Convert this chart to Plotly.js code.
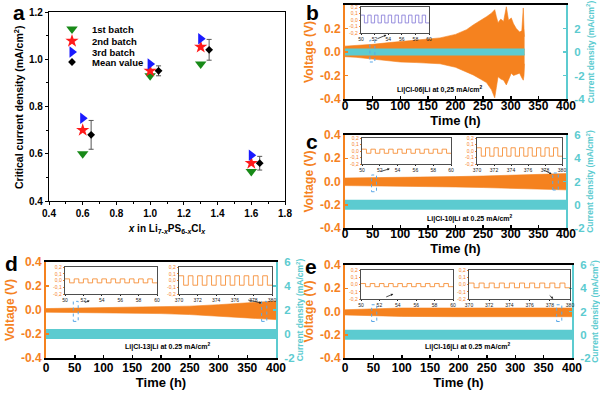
<!DOCTYPE html>
<html><head><meta charset="utf-8">
<script src="https://cdn.plot.ly/plotly-3.0.1.min.js"></script>
<style>html,body{margin:0;padding:0;background:#fff}#chart{width:600px;height:395px}</style>
</head><body><div id="chart"></div>
<script>
// ---------- Panel a data ----------
const xBatch = [0.6, 1.0, 1.3, 1.6];
const batch1 = [0.60, 0.93, 0.98, 0.525];
const batch2 = [0.70, 0.951, 1.052, 0.56];
const batch3 = [0.75, 0.98, 1.087, 0.594];
const xMean = [0.65, 1.05, 1.35, 1.65];
const meanVal = [0.68, 0.951, 1.04, 0.56];
const meanErr = [0.061, 0.021, 0.044, 0.029];
const aXTicks = [0.4, 0.6, 0.8, 1.0, 1.2, 1.4, 1.6, 1.8];
const aYTicks = [0.4, 0.6, 0.8, 1.0, 1.2];

// ---------- Panels b-e shared ticks ----------
const timeTicks = [0, 50, 100, 150, 200, 250, 300, 350, 400];
const voltTicks = [-0.4, -0.2, 0, 0.2, 0.4];
const voltTickText = ['-0.4', '-0.2', '0.0', '0.2', '0.4'];
const curTicksB = [-4, -2, 0, 2, 4];
const curTickTextB = ['-4', '-2', '0', '2', '4'];
const curTicksCDE = [-2, 0, 2, 4, 6];
const curTickTextCDE = ['-2', '0', '2', '4', '6'];

// ---------- Panel b: Li|Cl-06|Li voltage envelope ----------
const bT  = [0, 20, 50, 80, 100, 130, 150, 172, 200, 220, 232, 245, 256, 265, 271, 274, 277, 282, 287, 292, 296, 301, 305, 310, 316, 320, 322.7, 324, 325];
const bUp = [0.05, 0.055, 0.065, 0.08, 0.09, 0.105, 0.11, 0.12, 0.15, 0.19, 0.23, 0.265, 0.30, 0.33, 0.36, 0.30, 0.25, 0.28, 0.26, 0.385, 0.27, 0.29, 0.24, 0.20, 0.17, 0.18, 0.375, 0.20, 0.13];
const bLo = [-0.04, -0.045, -0.06, -0.075, -0.085, -0.09, -0.095, -0.10, -0.13, -0.17, -0.195, -0.23, -0.26, -0.32, -0.39, -0.30, -0.21, -0.23, -0.24, -0.28, -0.24, -0.18, -0.20, -0.19, -0.18, -0.22, -0.24, -0.20, -0.10];
const bCurT = [0, 325];

// ---------- Panel c: Li|Cl-10|Li ----------
const cT  = [0, 50, 100, 150, 200, 250, 300, 350, 400];
const cUp = [0.03, 0.032, 0.035, 0.038, 0.042, 0.047, 0.053, 0.06, 0.068];
const cLo = [-0.035, -0.037, -0.04, -0.043, -0.047, -0.052, -0.058, -0.064, -0.072];

// ---------- Panel d: Li|Cl-13|Li ----------
const dT  = [0, 50, 100, 150, 200, 250, 300, 350, 400];
const dUp = [0.012, 0.015, 0.018, 0.021, 0.025, 0.032, 0.044, 0.058, 0.075];
const dLo = [-0.018, -0.02, -0.022, -0.025, -0.03, -0.038, -0.05, -0.064, -0.08];

// ---------- Panel e: Li|Cl-16|Li ----------
const eT  = [0, 50, 70, 100, 200, 300, 400];
const eUp = [0.015, 0.02, 0.028, 0.03, 0.03, 0.032, 0.03];
const eLo = [-0.03, -0.035, -0.04, -0.042, -0.045, -0.045, -0.045];

// current density (mA/cm2) band
const curFullT = [0, 400];
const curHi = [0.25, 0.25];
const curLo = [-0.25, -0.25];

// ---------- Inset square waves ----------
const tIn50  = [50, 50.5, 51, 51.5, 52, 52.5, 53, 53.5, 54, 54.5, 55, 55.5, 56, 56.5, 57, 57.5, 58, 58.5, 59, 59.5, 60];
const tIn370 = [370, 370.5, 371, 371.5, 372, 372.5, 373, 373.5, 374, 374.5, 375, 375.5, 376, 376.5, 377, 377.5, 378, 378.5, 379, 379.5, 380];
const bInV  = [0.075, -0.045, 0.075, -0.045, 0.075, -0.045, 0.075, -0.045, 0.075, -0.045, 0.075, -0.045, 0.075, -0.045, 0.075, -0.045, 0.075, -0.045, 0.075, -0.045, -0.045];
const cInLV = [0.028, -0.035, 0.028, -0.035, 0.028, -0.035, 0.028, -0.035, 0.028, -0.035, 0.028, -0.035, 0.028, -0.035, 0.028, -0.035, 0.028, -0.035, 0.028, -0.035, -0.035];
const cInRV = [0.05, -0.08, 0.05, -0.08, 0.05, -0.08, 0.05, -0.08, 0.05, -0.08, 0.05, -0.08, 0.05, -0.08, 0.05, -0.08, 0.05, -0.08, 0.05, -0.08, -0.08];
const dInLV = [0.024, -0.035, 0.024, -0.035, 0.024, -0.035, 0.024, -0.035, 0.024, -0.035, 0.024, -0.035, 0.024, -0.035, 0.024, -0.035, 0.024, -0.035, 0.024, -0.035, -0.035];
const dInRV = [0.07, -0.07, 0.07, -0.07, 0.07, -0.07, 0.07, -0.07, 0.07, -0.07, 0.07, -0.07, 0.07, -0.07, 0.07, -0.07, 0.07, -0.07, 0.07, -0.07, -0.07];
const eInLV = [0.013, -0.03, 0.013, -0.03, 0.013, -0.03, 0.013, -0.03, 0.013, -0.03, 0.013, -0.03, 0.013, -0.03, 0.013, -0.03, 0.013, -0.03, 0.013, -0.03, -0.03];
const eInRV = [0.02, -0.045, 0.02, -0.045, 0.02, -0.045, 0.02, -0.045, 0.02, -0.045, 0.02, -0.045, 0.02, -0.045, 0.02, -0.045, 0.02, -0.045, 0.02, -0.045, -0.045];
const inX50Ticks = [50, 52, 54, 56, 58, 60];
const inX370Ticks = [370, 372, 374, 376, 378, 380];
const inYTicks = [-0.2, -0.1, 0, 0.1, 0.2];
const inYTickText = ['-0,2', '-0,1', '0,0', '0,1', '0,2'];

// ---------- styling ----------
const FONT = 'Arial, "Liberation Sans", sans-serif';
const OR = '#f5821f';
const CY = '#5ccbd0';
const BOX = '#5aa7e6';

const traces = [];
// panel a
traces.push({x: xBatch, y: batch1, xaxis: 'x', yaxis: 'y', mode: 'markers', name: '1st batch', legend: 'legend',
  marker: {symbol: 'triangle-down', size: 10, color: '#188a18'}});
traces.push({x: xBatch, y: batch2, xaxis: 'x', yaxis: 'y', mode: 'markers', name: '2nd batch', legend: 'legend2',
  marker: {symbol: 'star', size: 10, color: '#ff1a1a'}});
traces.push({x: xBatch, y: batch3, xaxis: 'x', yaxis: 'y', mode: 'markers', name: '3rd batch', legend: 'legend3',
  marker: {symbol: 'triangle-right', size: 10, color: '#1a1aff'}});
traces.push({x: xMean, y: meanVal, xaxis: 'x', yaxis: 'y', mode: 'markers', name: 'Mean value', legend: 'legend4',
  marker: {symbol: 'diamond', size: 6, color: '#000'},
  error_y: {type: 'data', array: meanErr, color: '#555', thickness: 1, width: 2.5}});

function envelope(t, lo, hi, xa, ya) {
  traces.push({x: t, y: lo, xaxis: xa, yaxis: ya, mode: 'lines', line: {color: OR, width: 0.6}, showlegend: false, hoverinfo: 'skip'});
  traces.push({x: t, y: hi, xaxis: xa, yaxis: ya, mode: 'lines', fill: 'tonexty', fillcolor: OR, line: {color: OR, width: 0.6}, showlegend: false, hoverinfo: 'skip'});
}
function current(t, xa, ya, lw) {
  traces.push({x: t, y: curLo, xaxis: xa, yaxis: ya, mode: 'lines', line: {color: CY, width: lw}, showlegend: false, hoverinfo: 'skip'});
  traces.push({x: t, y: curHi, xaxis: xa, yaxis: ya, mode: 'lines', fill: 'tonexty', fillcolor: CY, line: {color: CY, width: lw}, showlegend: false, hoverinfo: 'skip'});
}
envelope(bT, bLo, bUp, 'x2', 'y2');   current(bCurT, 'x2', 'y3', 1.2);
envelope(cT, cLo, cUp, 'x3', 'y4');   current(curFullT, 'x3', 'y5', 4);
envelope(dT, dLo, dUp, 'x4', 'y6');   current(curFullT, 'x4', 'y7', 4);
envelope(eT, eLo, eUp, 'x5', 'y8');   current(curFullT, 'x5', 'y9', 4);

function wave(t, v, xa, ya, col) {
  traces.push({x: t, y: v, xaxis: xa, yaxis: ya, mode: 'lines', line: {color: col, width: 0.8, shape: 'hv'}, showlegend: false, hoverinfo: 'skip'});
}
wave(tIn50, bInV, 'x6', 'y10', '#7f73d6');
wave(tIn50, cInLV, 'x7', 'y11', OR);
wave(tIn370, cInRV, 'x8', 'y12', OR);
wave(tIn50, dInLV, 'x9', 'y13', OR);
wave(tIn370, dInRV, 'x10', 'y14', OR);
wave(tIn50, eInLV, 'x11', 'y15', OR);
wave(tIn370, eInRV, 'x12', 'y16', OR);

const px = v => v / 600;
const py = v => 1 - v / 395;

function mainX(dom, anchor, lblShift) {
  return {domain: [px(dom[0]), px(dom[1])], anchor: anchor, range: [0, 400], tickvals: timeTicks,
    ticks: 'inside', ticklen: 3, tickwidth: 1.5, tickcolor: '#000', showline: true, linecolor: '#000', linewidth: 2, mirror: true,
    ticklabelstandoff: lblShift,
    showgrid: false, zeroline: false, tickfont: {family: FONT, size: 12, color: '#000', weight: 'bold'},
    title: {text: 'Time (h)', font: {family: FONT, size: 13, color: '#000', weight: 'bold'}, standoff: 1}};
}
function mainYL(dom, anchor) {
  return {domain: [py(dom[1]), py(dom[0])], anchor: anchor, range: [-0.4, 0.4], tickvals: voltTicks, ticktext: voltTickText,
    ticks: 'inside', ticklen: 3, tickwidth: 1.5, tickcolor: OR, showline: true, linecolor: OR, linewidth: 2,
    showgrid: false, zeroline: false, tickfont: {family: FONT, size: 12, color: OR, weight: 'bold'},
    title: {text: 'Voltage (V)', font: {family: FONT, size: 12, color: OR, weight: 'bold'}, standoff: 4}};
}
function mainYR(over, anchor, range, tv, tt) {
  return {overlaying: over, anchor: anchor, side: 'right', range: range, tickvals: tv, ticktext: tt,
    ticks: 'inside', ticklen: 3, tickwidth: 1.5, tickcolor: CY, showline: true, linecolor: CY, linewidth: 2,
    ticklabelstandoff: 4,
    showgrid: false, zeroline: false, tickfont: {family: FONT, size: 11.5, color: CY, weight: 'bold'},
    title: {text: 'Current density (mA/cm<sup>2</sup>)', font: {family: FONT, size: 8.5, color: CY, weight: 'bold'}, standoff: 0}};
}
function inX(dom, anchor, range, tv) {
  return {domain: [px(dom[0]), px(dom[1])], anchor: anchor, range: range, tickvals: tv,
    ticks: 'outside', ticklen: 1.5, tickcolor: '#222', showline: true, linecolor: '#222', linewidth: 0.8, mirror: true,
    showgrid: false, zeroline: false, tickfont: {family: FONT, size: 5, color: '#222'}};
}
function inY(ydom, anchor) {
  return {domain: [py(ydom[1]), py(ydom[0])], anchor: anchor, range: [-0.2, 0.2], tickvals: inYTicks, ticktext: inYTickText,
    ticks: 'outside', ticklen: 1.5, tickcolor: OR, showline: true, linecolor: '#222', linewidth: 0.8, mirror: true,
    showgrid: false, zeroline: false, tickfont: {family: FONT, size: 5, color: OR}};
}

const legFont = {family: FONT, size: 9.5, color: '#000', weight: 'bold'};
function leg(ypx) {
  return {x: px(52), y: py(ypx), xanchor: 'left', yanchor: 'middle', bgcolor: 'rgba(0,0,0,0)', borderwidth: 0, font: legFont, itemwidth: 30};
}

const layout = {
  width: 600, height: 395, margin: {l: 0, r: 0, t: 0, b: 0},
  paper_bgcolor: '#fff', plot_bgcolor: 'rgba(0,0,0,0)', showlegend: true,
  font: {family: FONT},
  legend: leg(29), legend2: leg(41), legend3: leg(52), legend4: leg(62),
  xaxis: {domain: [px(49), px(285)], anchor: 'y', range: [0.4, 1.8], tickvals: aXTicks, tickformat: '.1f',
    ticks: 'outside', ticklen: 3, tickcolor: '#000', showline: true, linecolor: '#000', linewidth: 1.2, mirror: true,
    minor: {ticks: 'outside', ticklen: 2, dtick: 0.1, tickcolor: '#000'},
    showgrid: false, zeroline: false, tickfont: {family: FONT, size: 10, color: '#000', weight: 'bold'},
    title: {text: '<i>x</i> in Li<sub>7-<i>x</i></sub>PS<sub>6-<i>x</i></sub>Cl<sub><i>x</i></sub>', font: {family: FONT, size: 10, color: '#000', weight: 'bold'}, standoff: 6}},
  yaxis: {domain: [py(201), py(12)], anchor: 'x', range: [0.4, 1.2], tickvals: aYTicks, tickformat: '.1f',
    ticks: 'outside', ticklen: 3, tickcolor: '#000', showline: true, linecolor: '#000', linewidth: 1.2, mirror: true,
    minor: {ticks: 'outside', ticklen: 2, dtick: 0.1, tickcolor: '#000'},
    showgrid: false, zeroline: false, tickfont: {family: FONT, size: 10, color: '#000', weight: 'bold'}},
  // b
  xaxis2: mainX([345, 566], 'y2', -5), yaxis2: mainYL([5, 99], 'x2'), yaxis3: mainYR('y2', 'x2', [-4, 4], curTicksB, curTickTextB),
  // c
  xaxis3: mainX([345, 566], 'y4', -6), yaxis4: mainYL([135, 228], 'x3'), yaxis5: mainYR('y4', 'x3', [-2, 6], curTicksCDE, curTickTextCDE),
  // d
  xaxis4: mainX([46, 276], 'y6', -2), yaxis6: mainYL([262, 358], 'x4'), yaxis7: mainYR('y6', 'x4', [-2, 6], curTicksCDE, curTickTextCDE),
  // e
  xaxis5: mainX([345, 572], 'y8', -2), yaxis8: mainYL([265, 358], 'x5'), yaxis9: mainYR('y8', 'x5', [-2, 6], curTicksCDE, curTickTextCDE),
  // insets
  xaxis6: inX([361, 429], 'y10', [50, 60], inX50Ticks), yaxis10: inY([7, 33], 'x6'),
  xaxis7: inX([362, 451], 'y11', [50, 60], inX50Ticks), yaxis11: inY([138, 164], 'x7'),
  xaxis8: inX([477, 562], 'y12', [370, 380], inX370Ticks), yaxis12: inY([138, 164], 'x8'),
  xaxis9: inX([65, 157], 'y13', [50, 60], inX50Ticks), yaxis13: inY([267, 294], 'x9'),
  xaxis10: inX([179, 272], 'y14', [370, 380], inX370Ticks), yaxis14: inY([267, 294], 'x10'),
  xaxis11: inX([361, 453], 'y15', [50, 60], inX50Ticks), yaxis15: inY([270, 299], 'x11'),
  xaxis12: inX([469, 570], 'y16', [370, 380], inX370Ticks), yaxis16: inY([270, 299], 'x12'),
  shapes: [],
  annotations: []
};

// panel a y-axis title (placed as annotation for exact position)
layout.annotations.push({xref: 'paper', yref: 'paper', x: px(18), y: py(108), xanchor: 'center', yanchor: 'middle', textangle: -90,
  text: 'Critical current density (mA/cm<sup>2</sup>)', showarrow: false,
  font: {family: FONT, size: 10.5, color: '#000', weight: 'bold'}});

// dashed selection boxes
function dbox(xa, ya, x0, x1, y0, y1) {
  layout.shapes.push({type: 'rect', xref: xa, yref: ya, x0: x0, x1: x1, y0: y0, y1: y1, line: {color: BOX, width: 1, dash: 'dot'}});
}
dbox('x2', 'y2', 45, 54, -0.085, 0.1);
dbox('x3', 'y4', 48, 57, -0.088, 0.056);
dbox('x3', 'y4', 376, 386, -0.073, 0.073);
dbox('x4', 'y6', 47.5, 56, -0.095, 0.072);
dbox('x4', 'y6', 375, 384, -0.095, 0.072);
dbox('x5', 'y8', 47, 56, -0.086, 0.058);
dbox('x5', 'y8', 373, 382, -0.086, 0.058);

function arrow(xa, ya, x, y, ax, ay) {
  layout.annotations.push({xref: xa, yref: ya, axref: xa, ayref: ya, x: x, y: y, ax: ax, ay: ay, text: '', showarrow: true,
    arrowhead: 2, arrowsize: 0.6, arrowwidth: 0.8, arrowcolor: '#222'});
}
arrow('x2', 'y2', 75, 0.145, 56, 0.108);
arrow('x3', 'y4', 81, 0.11, 63, 0.084);
arrow('x3', 'y4', 374, 0.064, 356, 0.107);
arrow('x4', 'y6', 76, 0.078, 65, 0.058);
arrow('x4', 'y6', 375, 0.058, 349, 0.086);
arrow('x5', 'y8', 85, 0.15, 70, 0.12);
arrow('x5', 'y8', 367, 0.109, 358, 0.15);

// condition labels
function label(xa, ya, x, y, txt) {
  layout.annotations.push({xref: xa, yref: ya, x: x, y: y, text: txt, showarrow: false,
    font: {family: FONT, size: 7, color: '#000', weight: 'bold'}});
}
label('x2', 'y2', 172, -0.323, 'Li|Cl-06|Li at 0,25 mA/cm<sup>2</sup>');
label('x3', 'y4', 226, -0.314, 'Li|Cl-10|Li at 0.25 mA/cm<sup>2</sup>');
label('x4', 'y6', 212, -0.306, 'Li|Cl-13|Li at 0.25 mA/cm<sup>2</sup>');
label('x5', 'y8', 217, -0.304, 'Li|Cl-16|Li at 0.25 mA/cm<sup>2</sup>');

// panel letters
function letter(t, x, y) {
  layout.annotations.push({xref: 'paper', yref: 'paper', x: px(x), y: py(y), xanchor: 'center', yanchor: 'middle', text: t, showarrow: false,
    font: {family: FONT, size: 21, color: '#000', weight: 'bold'}});
}
letter('a', 19, 12); letter('b', 312, 13); letter('c', 312, 141); letter('d', 11, 263); letter('e', 311, 266);

Plotly.newPlot('chart', traces, layout, {staticPlot: true, displayModeBar: false});
</script>
</body></html>
